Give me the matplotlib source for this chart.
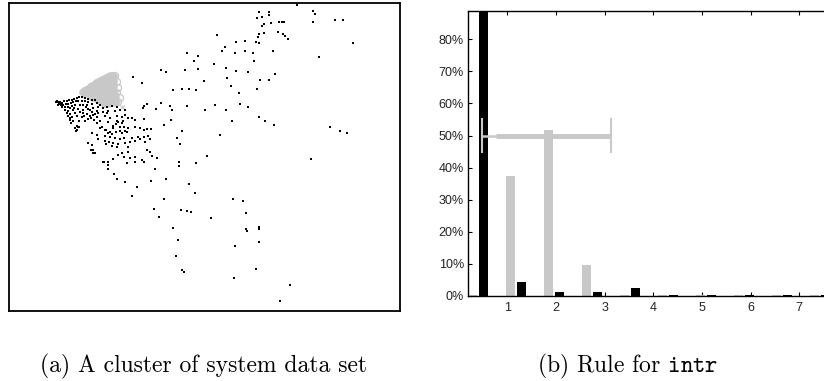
import numpy as np
import matplotlib
matplotlib.use("Agg")
import matplotlib.pyplot as plt
from matplotlib.ticker import FuncFormatter

plt.rcParams['mathtext.fontset'] = 'cm'

# ---- (a) projection of the system data set (two components, no units) ----
# scattered points of the whole data set
sparse_pts = [
    (297, 5), (313, 11), (315, 14), (313, 22), (335, 20), (343, 20), (353, 43), (319, 57),
    (259, 12), (269, 12), (269, 15), (262, 17), (257, 18), (264, 24), (262, 26), (271, 23),
    (279, 22), (282, 22), (284, 22), (278, 32), (283, 34), (285, 36), (288, 39), (259, 34),
    (264, 33), (258, 37), (256, 42), (259, 43), (245, 41), (236, 42), (217, 35), (225, 47),
    (222, 51), (235, 53), (245, 51), (253, 53), (273, 51), (254, 61), (198, 56), (194, 61),
    (187, 53), (214, 64), (198, 69), (185, 70), (161, 70), (166, 72), (226, 68), (236, 71),
    (248, 72), (275, 74), (227, 78), (204, 81), (231, 86), (260, 80), (269, 80), (257, 89),
    (239, 93), (196, 90), (189, 89), (182, 89), (173, 90), (133, 77), (142, 83), (144, 106),
    (147, 104), (156, 109), (161, 103), (170, 106), (172, 110), (187, 106), (205, 110),
    (215, 105), (226, 110), (240, 104), (248, 107), (259, 117), (265, 121), (274, 125),
    (232, 121), (171, 120), (164, 125), (144, 119), (182, 131), (177, 138), (180, 144),
    (220, 135), (207, 156), (196, 163), (179, 162), (179, 166), (155, 169), (166, 179),
    (151, 181), (189, 184), (195, 193), (164, 199), (137, 187), (132, 196), (125, 182),
    (117, 179), (114, 174), (108, 169), (104, 162), (108, 162), (233, 199), (243, 201),
    (246, 213), (211, 218), (181, 210), (187, 211), (191, 212), (154, 209), (159, 217),
    (173, 228), (246, 229), (247, 231), (259, 227), (259, 229), (178, 240), (259, 242),
    (235, 246), (176, 256), (182, 270), (184, 272), (256, 269), (234, 278), (290, 285),
    (280, 301), (311, 159), (330, 127), (340, 131), (347, 133),
    (143, 108), (125, 115), (128, 118), (132, 118), (135, 120), (118, 122), (122, 123),
    (116, 124), (113, 126), (120, 127), (124, 127), (128, 128), (135, 127), (140, 128),
    (144, 130), (147, 129), (151, 129), (110, 132), (106, 130), (108, 133), (112, 134),
    (116, 132), (122, 133), (127, 132), (105, 136), (110, 137), (115, 138), (120, 139),
    (124, 138), (132, 138), (138, 137), (144, 137), (148, 136), (98, 139), (105, 141),
    (109, 142), (113, 143), (118, 144), (125, 143), (130, 142), (135, 141), (140, 139),
    (145, 142), (150, 139), (88, 143), (92, 145), (106, 144), (112, 146), (117, 147),
    (128, 147), (93, 150), (95, 153), (122, 153), (128, 152), (147, 150), (150, 152),
    (118, 155), (124, 157), (130, 158), (135, 157), (142, 160), (152, 156), (157, 158),
    (103, 162), (108, 165), (113, 159), (127, 163), (135, 162), (144, 162), (108, 169),
    (91, 118), (93, 115), (98, 113), (103, 112), (107, 113), (97, 123), (102, 127),
]

# dense black part of the cluster
dense_pts = [
    (57, 101), (58, 102), (60, 102), (62, 103), (64, 101), (67, 101), (69, 100), (72, 100),
    (74, 99), (77, 98), (79, 97), (82, 97), (85, 98), (88, 99), (92, 100), (95, 100),
    (58, 105), (61, 105), (63, 105), (66, 104), (68, 104), (71, 103), (73, 102), (76, 101),
    (78, 101), (82, 101), (85, 101), (88, 102), (60, 103), (56, 102), (59, 104),
    (62, 107), (65, 107), (68, 107), (72, 106), (75, 105), (80, 105), (83, 105), (87, 105),
    (92, 104), (97, 103), (100, 105), (65, 110), (68, 111), (73, 110), (78, 109), (83, 110),
    (88, 109), (93, 108), (98, 107), (103, 108), (107, 107), (112, 106), (117, 107),
    (67, 113), (70, 114), (75, 113), (80, 112), (83, 113), (87, 114), (92, 112), (97, 111),
    (103, 112), (108, 111), (115, 111), (120, 110), (125, 110), (68, 116), (72, 117),
    (77, 116), (82, 117), (90, 116), (97, 117), (105, 116), (110, 118), (117, 116),
    (122, 117), (70, 120), (73, 121), (71, 123), (79, 121), (85, 121), (100, 121),
    (108, 122), (117, 121), (123, 121), (75, 128), (77, 130), (78, 127), (76, 131),
    (100, 128), (105, 130), (113, 128), (120, 131), (125, 131), (92, 133), (97, 135),
    (77, 126), (79, 127), (88, 143), (91, 150), (93, 153), (70, 108), (74, 108),
    (86, 107), (90, 110), (95, 114), (84, 116), (88, 119), (94, 120), (70, 118),
]

# grey circles: the selected cluster
grey_pts = [
    (82, 92), (84, 90), (86, 89), (88, 88), (90, 86), (92, 85), (94, 84), (96, 82),
    (98, 81), (100, 80), (102, 79), (104, 78), (106, 77), (108, 76), (110, 75), (112, 75),
    (114, 76), (86, 93), (90, 92), (94, 91), (98, 90), (102, 89), (106, 88), (110, 87),
    (114, 86), (90, 96), (94, 95), (98, 94), (102, 93), (106, 92), (110, 91), (114, 90),
    (96, 99), (100, 98), (104, 97), (108, 96), (112, 95), (116, 95), (100, 102), (104, 101),
    (108, 100), (112, 99), (116, 99), (104, 104), (108, 104), (112, 103), (116, 103),
    (96, 86), (100, 85), (104, 84), (108, 83), (112, 82), (100, 88), (104, 80), (108, 79),
    (112, 79), (110, 83), (114, 81), (88, 91), (92, 89), (96, 88), (84, 94), (92, 98),
]
grey_big_pts = [(115, 76), (117, 82), (118, 88), (117, 93), (120, 98), (118, 102)]

# ---- (b) rule for intr ----
bin_centers = [0.40, 1.18, 1.96, 2.74, 3.52, 4.30, 5.08, 5.87, 6.65, 7.43]
cluster_pct = [0.4, 37.5, 51.8, 9.7, 0.3, 0.2, 0.2, 0.2, 0.2, 0.2]
all_pct = [100.0, 4.4, 1.3, 1.3, 2.6, 0.3, 0.3, 0.2, 0.2, 0.2]
rule_lo, rule_core_lo, rule_hi = 0.49, 0.77, 3.14
rule_level = 50
rule_cap = 5

grey = '#c8c8c8'

fig = plt.figure(figsize=(8.24, 3.81), dpi=100)

# left panel
ax1 = fig.add_axes([9 / 824, 1 - 311 / 381, 391 / 824, 308 / 381])
sx, sy = zip(*sparse_pts)
dx, dy = zip(*dense_pts)
gx, gy = zip(*grey_pts)
bx, by = zip(*grey_big_pts)
ax1.scatter(gx, gy, s=16, marker='o', color=grey, edgecolors=grey, linewidths=0.8, zorder=2)
ax1.scatter(bx, by, s=26, marker='o', facecolors='none', edgecolors=grey, linewidths=0.9,
            zorder=2)
ax1.scatter([122], [107], s=10, marker='x', color=grey, linewidths=0.8, zorder=2)
ax1.scatter(sx, sy, s=3, marker='s', color='black', linewidths=0, zorder=3)
ax1.scatter(dx, dy, s=3.5, marker='s', color='black', linewidths=0, zorder=3)
ax1.set_xlim(9, 400)
ax1.set_ylim(311, 3)
ax1.set_xticks([])
ax1.set_yticks([])
for sp in ax1.spines.values():
    sp.set_linewidth(1.3)

# right panel
ax2 = fig.add_axes([468 / 824, 1 - 296 / 381, 362 / 824, 285 / 381])
centers = np.array(bin_centers)
w = 0.185
ax2.bar(centers - 0.11, cluster_pct, width=w, color=grey, zorder=2)
ax2.bar(centers + 0.11, all_pct, width=w, color='black', zorder=2)

# the rule interval drawn over the bars
ax2.plot([rule_lo, rule_hi], [rule_level, rule_level], color=grey, lw=1.8, zorder=3,
         solid_capstyle='butt')
ax2.plot([rule_core_lo, rule_hi], [rule_level, rule_level], color=grey, lw=3.5, zorder=3,
         solid_capstyle='butt')
for xc in (rule_lo, rule_hi):
    ax2.plot([xc, xc], [rule_level - rule_cap, rule_level + rule_cap], color=grey,
             lw=1.5, zorder=3)

ax2.set_xlim(0.193, 7.63)
ax2.set_ylim(0, 88.8)
ax2.set_xticks(range(1, 8))
ax2.set_yticks(range(0, 90, 10))
ax2.yaxis.set_major_formatter(FuncFormatter(lambda v, p: f'{v:.0f}%'))
ax2.tick_params(axis='x', direction='in', top=True, length=3, width=0.8, pad=4,
                labelsize=9)
ax2.tick_params(axis='y', direction='in', length=3, width=0.8, pad=3, labelsize=9)
for lab in ax2.get_xticklabels() + ax2.get_yticklabels():
    lab.set_fontfamily('Liberation Sans')
    lab.set_color('#222222')
ax2.spines['right'].set_visible(False)
for sp in ('left', 'top', 'bottom'):
    ax2.spines[sp].set_linewidth(1.0)

# captions, centred under each panel
fig.text(204 / 824, 1 - 366 / 381, '(a) A cluster of system data set', ha='center',
         va='center', fontsize=17, fontfamily='cmr10')
fig.text(628 / 824, 1 - 366 / 381, r'(b) Rule for $\mathtt{intr}$', ha='center',
         va='center', fontsize=17, fontfamily='cmr10')

fig.savefig('out.png', dpi=100)
